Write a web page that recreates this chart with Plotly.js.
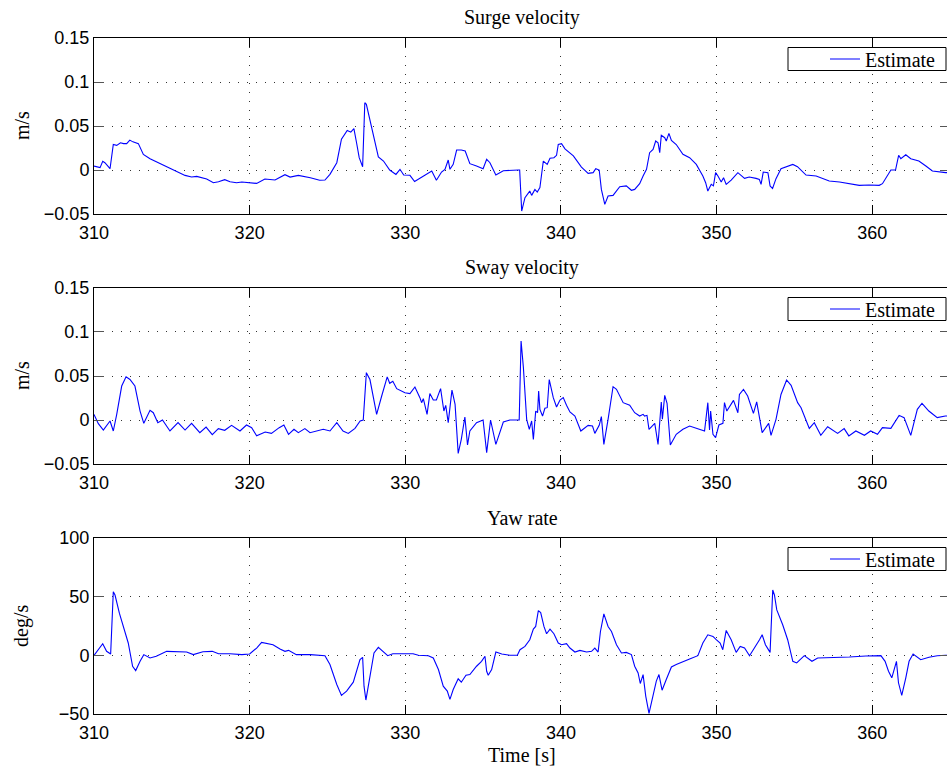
<!DOCTYPE html>
<html><head><meta charset="utf-8">
<script src="https://cdn.plot.ly/plotly-3.0.1.min.js"></script>
<style>html,body{margin:0;padding:0;overflow:hidden;background:#fff}#chart{width:951px;height:769px}</style>
</head><body><div id="chart"></div>
<script>
// ---- Data ----
const surgeT = [310,310.39,310.56,310.7,311.03,311.24,311.46,311.7,311.9,312.1,312.3,312.5,312.85,313.17,313.6,314.24,314.9,315.85,316.27,316.6,317.24,317.67,318.0,318.4,318.74,319.16,319.5,320.0,320.45,320.98,321.63,322.27,322.6,323.13,323.9,324.5,324.84,325.16,325.6,325.9,326.27,326.5,326.7,326.87,327.04,327.26,327.4,327.5,327.94,328.27,328.6,329.0,329.4,329.66,329.9,330.3,330.6,331.15,331.7,332.0,332.33,332.55,332.76,332.87,333.08,333.3,333.6,333.85,334.15,334.58,335.0,335.23,335.44,335.82,336.3,337.26,337.35,337.48,337.69,338.0,338.12,338.33,338.48,338.65,338.87,339.12,339.3,339.55,339.72,339.83,340.04,340.26,340.8,341.32,341.75,342.07,342.24,342.46,342.6,342.82,343.03,343.35,343.78,344.2,344.53,344.74,345.06,345.28,345.5,345.7,345.92,346.09,346.24,346.35,346.45,346.67,346.77,346.94,347.1,347.41,347.84,348.27,348.7,349.12,349.3,349.44,349.66,349.8,349.94,350.09,350.3,350.45,350.62,350.94,351.37,351.8,352.1,352.54,352.75,352.86,353.0,353.3,353.44,353.6,353.82,354.14,354.9,355.2,355.75,356.4,357.24,357.9,358.5,358.73,359.17,359.8,360.45,360.66,361.2,361.5,361.7,361.84,362.16,362.48,363.0,363.45,363.87,364.72,365];
const surgeV = [0.0045,0.0027,0.0098,0.0083,0.0015,0.029,0.028,0.031,0.030,0.030,0.034,0.032,0.030,0.0178,0.0129,0.0076,0.0027,-0.0061,-0.008,-0.0072,-0.0102,-0.0144,-0.0133,-0.011,-0.0133,-0.0144,-0.0136,-0.0144,-0.0152,-0.0102,-0.0114,-0.0053,-0.008,-0.0061,-0.0087,-0.0117,-0.0114,-0.0049,0.0083,0.035,0.045,0.043,0.047,0.031,0.014,0.0038,0.0765,0.0746,0.0386,0.015,0.0102,0,-0.005,0.0008,-0.0057,-0.006,-0.013,-0.0068,-0.0011,-0.0117,-0.0023,0.0008,0.0114,0.0008,0.0064,0.0227,0.0227,0.0216,0.0072,0.0045,0.0015,0.0121,0.0083,-0.0057,-0.0008,0,0,-0.0466,-0.0314,-0.0239,-0.0288,-0.022,-0.025,-0.020,0.0102,0.0064,0.0133,0.014,0.0167,0.029,0.030,0.024,0.016,0.0034,-0.0038,-0.003,0.0015,0,-0.022,-0.039,-0.0295,-0.0288,-0.019,-0.018,-0.023,-0.022,-0.0155,-0.0068,0.0008,0.0197,0.0235,0.033,0.031,0.0197,0.0394,0.0367,0.033,0.0417,0.0337,0.029,0.0178,0.014,0.0064,-0.0068,-0.0144,-0.0239,-0.0163,-0.018,-0.003,-0.0068,-0.0136,-0.0087,-0.0163,-0.0114,-0.003,-0.0095,-0.008,-0.0095,-0.0106,-0.0163,-0.0023,-0.003,-0.018,-0.021,-0.0098,0.0015,0.0064,0.0038,-0.0057,-0.0068,-0.0125,-0.0136,-0.0155,-0.0163,-0.0174,-0.017,-0.0174,-0.0155,0,0,0.0167,0.0129,0.0174,0.0129,0.0102,0.0045,-0.0011,-0.003,-0.003];

const swayT = [310,310.28,310.6,311.03,311.24,311.46,311.78,312.06,312.31,312.63,312.96,313.2,313.6,313.81,314.1,314.4,314.88,315.4,315.85,316.27,316.8,317.2,317.6,317.99,318.4,318.84,319.38,319.8,320.13,320.45,321.0,321.4,321.9,322.2,322.5,322.85,323.13,323.55,323.88,324.3,324.73,325.16,325.6,326.0,326.34,326.77,327.1,327.3,327.5,327.73,328.16,328.48,328.84,329.0,329.2,329.45,329.98,330.3,330.62,330.94,331.05,331.16,331.4,331.58,331.8,332.0,332.27,332.48,332.6,332.76,333.0,333.2,333.4,333.6,333.83,334.0,334.15,334.58,335.0,335.23,335.48,335.82,336.3,336.72,337.32,337.44,337.59,337.8,337.97,338.12,338.23,338.38,338.5,338.57,338.65,338.82,338.97,339.12,339.25,339.51,339.72,339.94,340.15,340.36,340.58,340.9,341.28,341.75,342.03,342.18,342.46,342.6,342.76,343.03,343.35,343.57,344.0,344.42,344.74,345.06,345.28,345.38,345.53,345.66,345.92,346.03,346.24,346.45,346.52,346.67,346.82,347.03,347.41,347.84,348.27,348.8,349.23,349.44,349.55,349.62,349.77,349.94,350.15,350.41,350.51,350.66,351.09,351.37,351.47,351.73,352.0,352.37,352.58,352.93,353.18,353.35,353.5,353.82,354.14,354.5,354.79,355.21,355.43,355.96,356.28,356.7,357.14,357.78,358.2,358.5,358.95,359.5,359.9,360.34,360.66,361.2,361.73,362.05,362.48,362.9,363.2,363.64,364.18,364.7,365];
const swayV = [0.0064,-0.0042,-0.0114,-0.0011,-0.0125,0.0064,0.0386,0.049,0.046,0.0386,0.0102,-0.0038,0.011,0.0083,-0.003,0,-0.0125,-0.003,-0.0114,-0.0038,-0.0144,-0.008,-0.0167,-0.0098,-0.0117,-0.0061,-0.0125,-0.0057,-0.0087,-0.018,-0.0136,-0.0152,-0.0087,-0.0057,-0.0163,-0.0106,-0.0144,-0.0098,-0.0144,-0.0125,-0.0106,-0.0125,-0.003,-0.0125,-0.0152,-0.0095,-0.0011,0,0.0538,0.046,0.0064,0.027,0.049,0.0417,0.044,0.0356,0.031,0.030,0.0375,0.0254,0.0197,0.0242,0.0064,0.030,0.0227,0.0227,0.0356,0.0102,0.0167,-0.003,0.034,0.0178,-0.0379,-0.022,0.0034,-0.0284,-0.0125,-0.003,0,-0.037,0,-0.0277,-0.0023,0,0,0.0898,0.0595,0.0008,-0.0106,-0.0011,-0.022,0.0102,0.0083,0.033,0.0121,0.0045,0.0133,0.014,0.046,0.0254,0.0148,0.0227,0.0254,0.0167,0.0091,0.0045,-0.0125,-0.0061,-0.0068,-0.0152,-0.0061,0.0038,-0.0277,0.0008,0.0379,0.0348,0.0197,0.0167,0.0083,0.0045,0.0064,0.0045,0.0053,-0.0106,-0.0061,-0.0038,-0.0277,0.0205,0.0008,0.028,0.019,-0.0284,-0.0163,-0.0106,-0.0068,-0.0095,-0.0125,0.0197,-0.0114,0.0102,-0.0163,-0.020,-0.0057,-0.0038,0.0197,0.0102,0.0223,0.0083,0.029,0.0348,0.0273,0.0076,0.0205,-0.0144,-0.0087,-0.0038,-0.0174,0.0008,0.029,0.0455,0.0394,0.0197,0.014,-0.0095,-0.003,-0.0174,-0.0076,-0.0152,-0.0098,-0.018,-0.0125,-0.0174,-0.0125,-0.0163,-0.0087,-0.0095,0.0053,0.0027,-0.0174,0.0121,0.019,0.0102,0.0027,0.0045,0.0045];

const yawT = [310,310.56,310.81,311.07,311.24,311.35,311.63,311.88,312.2,312.48,312.68,312.96,313.2,313.6,314.0,314.67,315.3,315.95,316.38,317.0,317.6,318.0,318.74,319.5,320.0,320.45,320.77,321.1,321.5,321.95,322.27,322.5,322.7,323.0,323.9,324.84,325.16,325.6,325.9,326.23,326.66,326.87,327.09,327.26,327.35,327.47,327.73,327.99,328.27,328.6,328.87,329.2,329.66,330.08,330.5,330.84,331.48,331.8,332.13,332.44,332.7,332.87,333.08,333.4,333.6,333.9,334.15,334.58,334.9,335.12,335.23,335.33,335.55,335.82,336.2,336.72,337.2,337.37,337.69,338.0,338.23,338.38,338.55,338.7,338.91,339.08,339.3,339.55,339.83,340.04,340.36,340.58,340.9,341.22,341.65,341.97,342.18,342.39,342.54,342.76,342.88,343.03,343.25,343.57,343.89,344.2,344.53,344.74,344.96,345.1,345.28,345.45,345.66,345.92,346.13,346.3,346.5,346.77,347.1,347.41,347.74,348.27,348.8,349.12,349.44,349.77,349.98,350.23,350.4,350.62,350.94,351.26,351.52,351.8,352.12,352.44,352.76,352.93,353.14,353.44,353.61,353.72,353.87,354.25,354.57,354.9,355.15,355.64,356.13,356.5,357.46,358.53,359.6,360.56,360.83,361.05,361.26,361.41,361.56,361.69,361.9,362.16,362.37,362.63,363.12,363.65,364.18,364.73,365];
const yawV = [0,9.9,3.4,1.1,54.2,51.4,35.9,24.6,10.5,-9.3,-13,-5.1,0.6,-2.3,-0.8,3.4,2.8,2.8,0.6,3.1,3.4,1.4,1.4,0.6,1.1,6.2,11,9.9,9,5.4,3.4,4.2,2.5,0.6,0.6,-0.3,-7.9,-24.9,-34.2,-30.5,-22.9,-13.6,-3.7,-1.7,-26.3,-38.1,-17.8,2.0,6.8,2.5,-0.3,1.4,1.4,0.8,1.4,0,-0.3,-2.3,-12.1,-26.3,-30.5,-37.6,-29.1,-20,-22.9,-17,-16.4,-9.3,-5.1,-0.8,-13.6,-17,-12.1,2.8,1.1,0,0,4.8,7.6,13.3,22.3,24.6,38.1,36.4,24.6,18.4,22.3,18.4,10.5,9,9.9,6.2,2.8,4.2,2.8,3.4,6.2,2.8,20.3,35.3,30.2,24.6,20.3,9,2,2.5,0.6,-9.3,-15,-24,-16.4,-34.7,-49.4,-33.3,-22,-16.4,-29.7,-20.6,-9.9,-7.9,-5.9,-3.1,-0.3,10.5,17.5,16.1,13.3,10.5,4.8,21.2,13.3,2.5,7.6,6.2,-0.3,6.2,13.3,17.5,9,2.5,55.7,51.4,38.7,26,13.3,-5.1,-6.5,-0.3,-5.1,-2.3,-2,-1.4,-0.6,-0.3,-5.1,-13.6,-19.2,-11.6,-5.1,-23.4,-34.2,-19.2,-5.1,1.1,-3.7,-1.7,-0.3,0,0];

const titles = ['Surge velocity','Sway velocity','Yaw rate'];
const yTitles = ['m/s','m/s','deg/s'];
const xTickVals = [310,320,330,340,350,360];
const velTicks = [-0.05,0,0.05,0.1,0.15];
const velTickText = ['\u22120.05','0','0.05','0.1','0.15'];
const yawTicks = [-50,0,50,100];
const yawTickText = ['\u221250','0','50','100'];
const legendName = 'Estimate';

// ---- Layout ----
const serif = 'Liberation Serif, Times New Roman, serif';
const sans = 'Liberation Sans, Arial, Helvetica, sans-serif';
const series = [[surgeT,surgeV],[swayT,swayV],[yawT,yawV]];
const domains = [[0.7396,1],[0.3698,0.6302],[0,0.2604]];
const panelShift = [0, 250/676, 500/676];

const traces = series.map((s,i)=>({
  x:s[0], y:s[1], type:'scatter', mode:'lines', name:legendName,
  line:{color:'#0000ff', width:1.1},
  xaxis: i===0?'x':'x'+(i+1), yaxis: i===0?'y':'y'+(i+1),
  legend: i===0?'legend':'legend'+(i+1), showlegend:true
}));

const layout = {
  width:951, height:769, margin:{l:94,r:1,t:38,b:55},
  paper_bgcolor:'#fff', plot_bgcolor:'#fff', showlegend:true,
  annotations:[], shapes:[], font:{family:sans, color:'#000'}
};
function xax(i){
  return {domain:[0,1], anchor: i===0?'y':'y'+(i+1), range:[310,365],
    tickvals:xTickVals, ticktext:xTickVals.map(String),
    ticks:'inside', ticklen:9, tickcolor:'#000', tickwidth:1,
    showline:true, linecolor:'#000', linewidth:1, mirror:'ticks',
    showgrid:true, gridcolor:'#333', gridwidth:1, griddash:'1px,8px',
    zeroline:false, ticklabelstandoff:2, tickfont:{family:sans, size:18, color:'#000'}};
}
function yax(i){
  const yaw = i===2;
  return {domain:domains[i], anchor: i===0?'x':'x'+(i+1),
    range: yaw?[-50,100]:[-0.05,0.15],
    tickvals: yaw?yawTicks:velTicks, ticktext: yaw?yawTickText:velTickText,
    ticks:'inside', ticklen:10, tickcolor:'#555', tickwidth:1,
    showline:true, linecolor:'#000', linewidth:1, mirror:'ticks',
    showgrid:true, gridcolor:'#333', gridwidth:1, griddash:'1px,8px',
    zeroline:false, tickfont:{family:sans, size:18, color:'#000'}};
}
for(let i=0;i<3;i++){
  const sx = i===0?'':String(i+1);
  layout['xaxis'+sx] = xax(i);
  layout['yaxis'+sx] = yax(i);
  const boxTop = (714-47.5)/676 - panelShift[i];
  const boxBot = (714-70.5)/676 - panelShift[i];
  layout.shapes.push({type:'rect', xref:'paper', yref:'paper',
    x0:(788-94)/856, x1:(946-94)/856, y0:boxBot, y1:boxTop,
    fillcolor:'#fff', line:{color:'#000', width:1}, layer:'above'});
  layout['legend'+sx] = {x:(941-94)/856, xanchor:'right', y:(boxTop+boxBot)/2, yanchor:'middle',
    xref:'paper', yref:'paper', bgcolor:'rgba(0,0,0,0)', borderwidth:0,
    font:{family:serif, size:20, color:'#000'}, tracegroupgap:0};
  layout.annotations.push({text:titles[i], xref:'x'+sx+' domain', yref:'y'+sx+' domain',
    x:0.5, y:1, xanchor:'center', yanchor:'bottom', yshift:7, showarrow:false,
    font:{family:serif, size:20, color:'#000'}});
  layout.annotations.push({text:yTitles[i], xref:'paper', yref:'y'+sx+' domain',
    x:-(94-22)/856, y:0.5, xanchor:'center', yanchor:'middle', textangle:-90, showarrow:false,
    font:{family:serif, size:20, color:'#000'}});
}
layout.annotations.push({text:'Time [s]', xref:'paper', yref:'paper', x:0.5, y:-(755-714)/676,
  xanchor:'center', yanchor:'middle', showarrow:false, font:{family:serif, size:20, color:'#000'}});

Plotly.newPlot('chart', traces, layout, {staticPlot:true, displayModeBar:false});
</script></body></html>
